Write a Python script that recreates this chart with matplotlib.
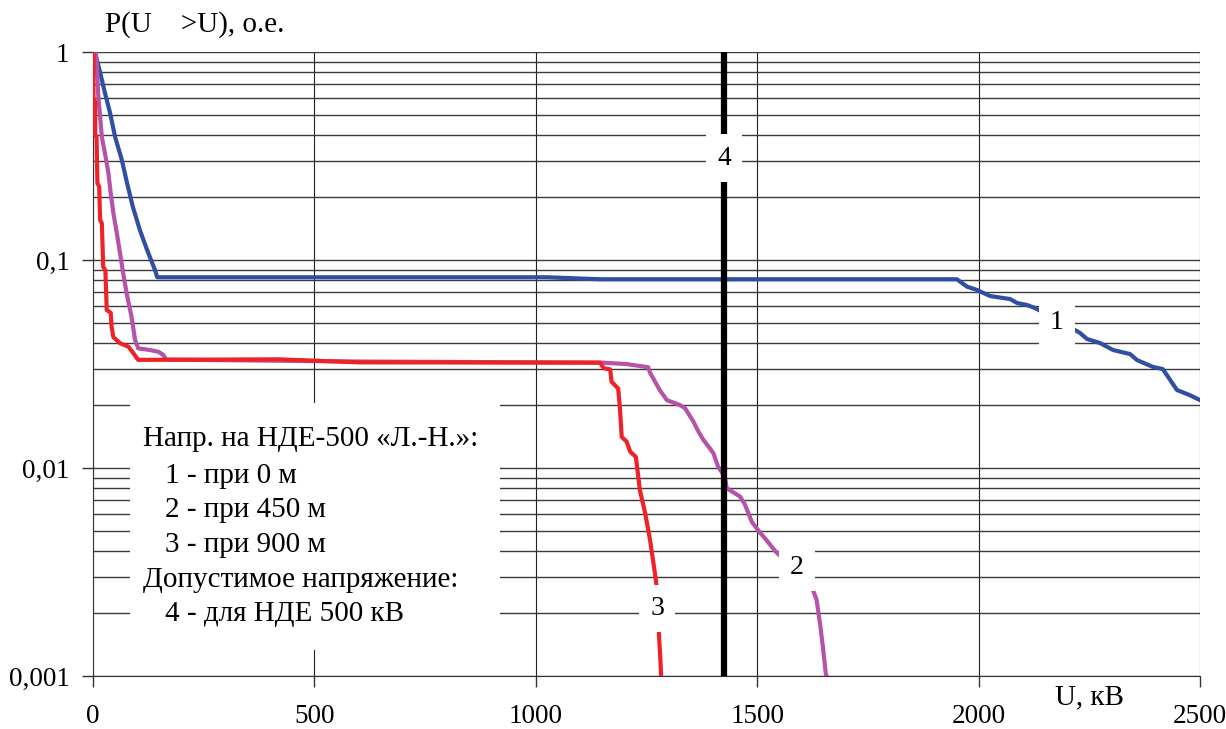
import matplotlib
matplotlib.use("Agg")
import matplotlib.pyplot as plt
from matplotlib.patches import Rectangle
from matplotlib.ticker import NullFormatter, LogLocator

# ---------------- data ----------------
u1 = [4, 16, 27, 38, 50, 65, 77, 90, 106, 122, 140, 145, 1025, 1145, 1951, 1974, 1996, 2026,
      2071, 2087, 2109, 2127, 2175, 2229, 2245, 2274, 2304, 2342, 2358, 2394, 2416, 2448, 2477, 2500]
p1 = [1.0, 0.80, 0.635, 0.515, 0.39, 0.303, 0.234, 0.18, 0.139, 0.112, 0.0895, 0.0826, 0.0826, 0.0808,
      0.0808, 0.0744, 0.0718, 0.0671, 0.0649, 0.0621, 0.0608, 0.0588, 0.052, 0.0446, 0.0417, 0.0399,
      0.0369, 0.0353, 0.0330, 0.0306, 0.0299, 0.0237, 0.0224, 0.0212]

u2 = [6, 8, 12, 16, 20, 27, 35, 40, 46, 54, 61, 68, 76, 87, 95, 102, 129, 148, 159, 165, 600,
      1150, 1205, 1254, 1258, 1280, 1296, 1325, 1337, 1356, 1367, 1378, 1401, 1412, 1427, 1431,
      1461, 1472, 1488, 1506, 1521, 1540, 1580, 1623, 1634, 1642, 1649, 1655, 1657]
p2 = [1.0, 0.915, 0.61, 0.489, 0.39, 0.326, 0.26, 0.209, 0.168, 0.134, 0.108, 0.0866, 0.0691,
      0.0534, 0.0413, 0.0376, 0.0369, 0.0362, 0.0349, 0.0332, 0.0325,
      0.0321, 0.0316, 0.0305, 0.0287, 0.0237, 0.0212, 0.0201, 0.0194, 0.0167, 0.0150, 0.0137,
      0.0118, 0.0101, 0.0091, 0.0080, 0.0073, 0.0067, 0.0055, 0.0049, 0.0045, 0.0040, 0.0033,
      0.00269, 0.00233, 0.00178, 0.00134, 0.00102, 0.001]

u3 = [1, 1, 5, 5, 8, 10, 14, 16, 20, 23, 28, 31, 40, 42, 46, 61, 80, 91, 102, 420, 600,
      1145, 1153, 1168, 1171, 1186, 1190, 1194, 1205, 1213, 1226, 1235, 1247, 1258, 1269,
      1275, 1277, 1281, 1283]
p3 = [1.0, 0.588, 0.577, 0.40, 0.39, 0.234, 0.225, 0.156, 0.15, 0.093, 0.089, 0.0575, 0.0557,
      0.0478, 0.0426, 0.0398, 0.0383, 0.0357, 0.0331, 0.0333, 0.0322,
      0.0321, 0.0302, 0.0298, 0.026, 0.0241, 0.0194, 0.0141, 0.0134, 0.0120, 0.0113, 0.00784,
      0.00606, 0.00451, 0.00312, 0.0025, 0.00173, 0.00124, 0.001]

u_allow = 1425  # curve 4: permissible voltage

x_ticks = [0, 500, 1000, 1500, 2000, 2500]
x_ticklabels = ["0", "500", "1000", "1500", "2000", "2500"]
y_ticks = [0.001, 0.01, 0.1, 1]
y_ticklabels = ["0,001", "0,01", "0,1", "1"]

legend_lines = ["Напр. на НДЕ-500 «Л.-Н.»:", "1 - при 0 м", "2 - при 450 м",
                "3 - при 900 м", "Допустимое напряжение:", "4 - для НДЕ 500 кВ"]
legend_indent = [False, True, True, True, False, True]

curve_labels = ["1", "2", "3", "4"]
label_pos_u = [2177, 1590, 1274, 1425]
label_pos_p = [0.0503, 0.00334, 0.00211, 0.309]

# ---------------- figure ----------------
plt.rcParams['font.family'] = ['Liberation Serif', 'DejaVu Serif']
W, H = 1226, 729
fig = plt.figure(figsize=(W / 100, H / 100), dpi=100)
ax = fig.add_axes([93 / W, 1 - 676 / H, (1200 - 93) / W, (676 - 52) / H])

ax.set_yscale('log')
ax.set_xlim(0, 2500)
ax.set_ylim(0.001, 1)

ax.set_xticks(x_ticks)
ax.set_xticklabels(x_ticklabels)
ax.set_yticks(y_ticks)
ax.set_yticklabels(y_ticklabels)
ax.yaxis.set_minor_locator(LogLocator(base=10, subs=range(2, 10)))
ax.yaxis.set_minor_formatter(NullFormatter())
ax.tick_params(axis='both', which='major', labelsize=19.5, direction='out',
               length=8, width=1, color='#333333')
ax.tick_params(axis='x', which='major', pad=12)
ax.tick_params(axis='y', which='major', pad=9)
ax.tick_params(axis='y', which='minor', length=0)

ax.grid(True, axis='y', which='both', color='#3a3a3a', linewidth=1.0)
ax.grid(True, axis='x', which='major', color='#222222', linewidth=0.8)
ax.spines['top'].set_visible(False)
ax.spines['right'].set_visible(False)
ax.spines['left'].set_color('#333333')
ax.spines['bottom'].set_color('#333333')
ax.set_axisbelow(True)

# curves
ax.plot(u1, p1, color='#2F4FA2', linewidth=3.0, zorder=3, solid_joinstyle='round')
ax.plot(u2, p2, color='#B552AA', linewidth=3.0, zorder=3, solid_joinstyle='round')
ax.plot(u3, p3, color='#EE2227', linewidth=3.0, zorder=4, solid_joinstyle='round')
ax.axvline(u_allow, color='black', linewidth=4.5, zorder=5)

# curve number labels with white background
for t, xu, yp in zip(curve_labels, label_pos_u, label_pos_p):
    ax.text(xu, yp, t, fontsize=20, ha='center', va='center', zorder=10,
            bbox=dict(boxstyle='square,pad=0.4', facecolor='white', edgecolor='none'))

# legend box (white, covering grid)
x0, y0, x1, y1 = 130, 403, 500, 650
fig.patches.append(Rectangle((x0 / W, 1 - y1 / H), (x1 - x0) / W, (y1 - y0) / H,
                             transform=fig.transFigure, facecolor='white',
                             edgecolor='none', zorder=6))
line_y = [439, 476, 510, 545, 580, 614]
for txt, ind, yy in zip(legend_lines, legend_indent, line_y):
    fig.text((165 if ind else 143) / W, 1 - yy / H, txt, fontsize=21,
             ha='left', va='center', zorder=7)

# axis titles
fig.text(105 / W, 1 - 25 / H, "P(U    >U), о.е.", fontsize=21, ha='left', va='center')
fig.text(1055 / W, 1 - 697 / H, "U, кВ", fontsize=21, ha='left', va='center')

fig.savefig("out.png", dpi=100, facecolor='white')
